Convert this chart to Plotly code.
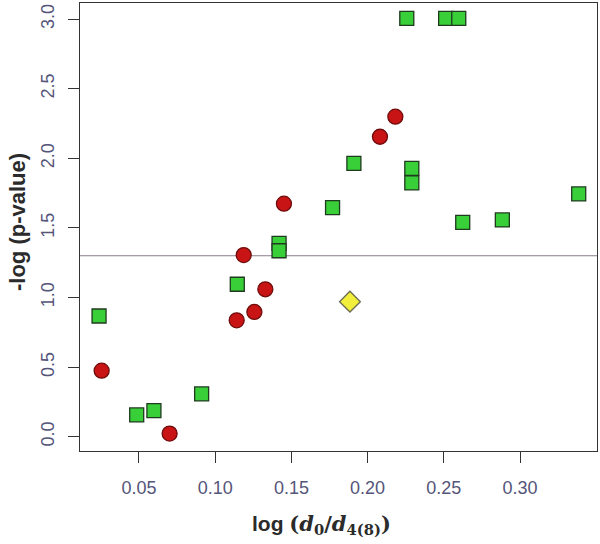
import plotly.graph_objects as go

# Green squares
green_x = [0.0238, 0.0485, 0.0598, 0.0911, 0.1145, 0.1419, 0.1419, 0.1770, 0.1910,
           0.2257, 0.2512, 0.2598, 0.2290, 0.2290, 0.2624, 0.2884, 0.3385]
green_y = [0.867, 0.156, 0.187, 0.307, 1.095, 1.389, 1.336, 1.645, 1.964,
           3.006, 3.006, 3.006, 1.928, 1.823, 1.540, 1.557, 1.744]

# Red circles
red_x = [0.0255, 0.0701, 0.1141, 0.1257, 0.1329, 0.1187, 0.1451, 0.2081, 0.2182]
red_y = [0.474, 0.022, 0.836, 0.896, 1.059, 1.305, 1.674, 2.155, 2.299]

# Yellow diamond
yellow_x = [0.1884]
yellow_y = [0.970]

THRESHOLD = 1.30

x_ticks = [0.05, 0.10, 0.15, 0.20, 0.25, 0.30]
x_tick_labels = ["0.05", "0.10", "0.15", "0.20", "0.25", "0.30"]
y_ticks = [0.0, 0.5, 1.0, 1.5, 2.0, 2.5, 3.0]
y_tick_labels = ["0.0", "0.5", "1.0", "1.5", "2.0", "2.5", "3.0"]

x_title = ("<b><span style='font-family:Liberation Sans'>log </span>"
           "<span style='font-family:DejaVu Serif'>(<i>d</i><sub>0</sub>/<i>d</i><sub>4(8)</sub>)</span></b>")
y_title = "<b>-log (p-value)</b>"

fig = go.Figure()

fig.add_hline(y=THRESHOLD, line=dict(color="#8a7d8c", width=1.2), layer="below")

fig.add_trace(go.Scatter(
    x=green_x, y=green_y, mode="markers",
    marker=dict(symbol="square", size=14, color="#38cf38",
                line=dict(color="#1f3a1f", width=1.3)),
    showlegend=False, hoverinfo="x+y"))

fig.add_trace(go.Scatter(
    x=red_x, y=red_y, mode="markers",
    marker=dict(symbol="circle", size=15, color="#c81414",
                line=dict(color="#6e0c0c", width=1.3)),
    showlegend=False, hoverinfo="x+y"))

fig.add_trace(go.Scatter(
    x=yellow_x, y=yellow_y, mode="markers",
    marker=dict(symbol="diamond", size=16, color="#f2ee3c",
                line=dict(color="#6b6b50", width=1.3)),
    showlegend=False, hoverinfo="x+y"))

tick_font = dict(family="Liberation Sans, Arial, sans-serif", size=18, color="#55557a")

fig.update_layout(
    width=600, height=544,
    margin=dict(l=80, r=3, t=3, b=93),
    paper_bgcolor="white", plot_bgcolor="white",
    xaxis=dict(
        range=[0.0113, 0.3505], tickvals=x_ticks, ticktext=x_tick_labels,
        showgrid=False, zeroline=False,
        showline=True, mirror=True, linecolor="#333333", linewidth=1.2,
        ticks="outside", ticklen=11, tickcolor="#333333", tickwidth=1.2,
        tickfont=tick_font, ticklabelstandoff=9,
    ),
    yaxis=dict(
        range=[-0.103, 3.116], tickvals=y_ticks, ticktext=y_tick_labels,
        showgrid=False, zeroline=False,
        showline=True, mirror=True, linecolor="#333333", linewidth=1.2,
        ticks="outside", ticklen=11, tickcolor="#333333", tickwidth=1.2,
        tickangle=-90, tickfont=tick_font, ticklabelstandoff=7,
    ),
    annotations=[
        dict(text=x_title, xref="paper", yref="paper", x=0.468, y=-0.165,
             xanchor="center", yanchor="middle", showarrow=False,
             font=dict(family="Liberation Sans, Arial, sans-serif", size=21, color="#2b2b2b")),
        dict(text=y_title, xref="paper", yref="paper", x=-0.1219, y=0.511,
             xanchor="center", yanchor="middle", showarrow=False, textangle=-90,
             font=dict(family="Liberation Sans, Arial, sans-serif", size=22, color="#2b2b2b")),
    ],
)

fig.write_html("out.html", config={"displayModeBar": False},
               post_script="document.body.style.margin='0';")
